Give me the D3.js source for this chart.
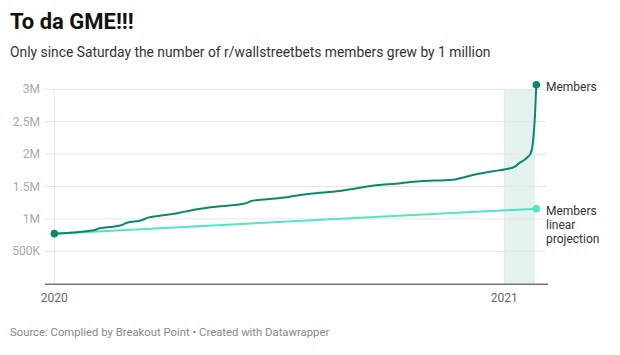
<!DOCTYPE html>
<html><head><meta charset="utf-8">
<script src="https://cdn.jsdelivr.net/npm/d3@7/dist/d3.min.js"></script>
<style>body{margin:0;background:#fff;font-family:Roboto,sans-serif}svg text{font-family:Roboto,sans-serif}</style>
</head><body>
<svg id="c" width="620" height="355"></svg>
<script>
const memberDates = ["2020-01-01","2020-02-02","2020-02-07","2020-02-18","2020-02-25","2020-02-29","2020-03-12","2020-03-17","2020-03-27","2020-04-12","2020-04-20","2020-05-07","2020-06-05","2020-06-09","2020-06-24","2020-07-08","2020-07-19","2020-07-27","2020-08-20","2020-09-03","2020-09-19","2020-10-05","2020-10-24","2020-11-20","2020-11-26","2020-12-09","2020-12-23","2021-01-02","2021-01-10","2021-01-13","2021-01-18","2021-01-20","2021-01-22","2021-01-24","2021-01-25","2021-01-26","2021-01-27"];
const memberValues = [772000,824000,855000,880000,906000,941000,978000,1019000,1049000,1096000,1127000,1179000,1241000,1276000,1307000,1333000,1369000,1389000,1430000,1472000,1519000,1543000,1580000,1605000,1627000,1688000,1735000,1765000,1810000,1860000,1920000,1955000,1995000,2140000,2340000,2620000,3070000];
const projectionDates = ["2020-01-01","2021-01-27"];
const projectionValues = [772000,1157000];
const yTicks = [500000,1000000,1500000,2000000,2500000,3000000];
const yTickLabels = ["500K","1M","1.5M","2M","2.5M","3M"];
const xTicks = ["2020-01-01","2021-01-01"];
const xTickLabels = ["2020","2021"];
const highlight = ["2021-01-01","2021-01-26"];

const parse = d3.utcParse("%Y-%m-%d");
const svg = d3.select("#c");
const x = d3.scaleUtc().domain([parse("2020-01-01"), parse("2021-01-27")]).range([54.3, 536.3]);
const y = d3.scaleLinear().domain([0, 3000000]).range([283.7, 89.3]);

svg.append("text").attr("x",10).attr("y",29).attr("font-size",22).attr("font-weight",700).attr("fill","#111").text("To da GME!!!");
svg.append("text").attr("x",10).attr("y",57).attr("font-size",13.85).attr("fill","#333").text("Only since Saturday the number of r/wallstreetbets members grew by 1 million");
svg.append("text").attr("x",10).attr("y",336).attr("font-size",11.3).attr("fill","#888").text("Source: Complied by Breakout Point \u2022 Created with Datawrapper");

// highlight band
svg.append("rect").attr("x",x(parse(highlight[0]))).attr("y",y(3000000)).attr("width",x(parse(highlight[1]))-x(parse(highlight[0]))).attr("height",y(0)-y(3000000)).attr("fill","#e3f2ee");

// y grid + labels
const yg = svg.append("g");
yTicks.forEach((t,i)=>{
  yg.append("line").attr("x1",45).attr("x2",546).attr("y1",y(t)).attr("y2",y(t)).attr("stroke","#e5e5e5").attr("stroke-width",1);
  yg.append("text").attr("x",40).attr("y",y(t)+4).attr("text-anchor","end").attr("font-size",12).attr("fill","#aaa").text(yTickLabels[i]);
});
// x grid + labels
xTicks.forEach((t,i)=>{
  const xx = x(parse(t));
  svg.append("line").attr("x1",xx).attr("x2",xx).attr("y1",y(3000000)).attr("y2",y(0)).attr("stroke","#e5e5e5");
  svg.append("text").attr("x",xx).attr("y",302).attr("text-anchor","middle").attr("font-size",12).attr("fill","#666").text(xTickLabels[i]);
});
svg.append("line").attr("x1",45).attr("x2",548).attr("y1",y(0)+0.5).attr("y2",y(0)+0.5).attr("stroke","#333").attr("stroke-width",1);

const line = d3.line().x(d=>x(d[0])).y(d=>y(d[1]));
const proj = projectionDates.map((d,i)=>[parse(d),projectionValues[i]]);
const mem = memberDates.map((d,i)=>[parse(d),memberValues[i]]);
svg.append("path").datum(proj).attr("d",line).attr("fill","none").attr("stroke","#52e5c1").attr("stroke-width",2);
svg.append("path").datum(mem).attr("d",line.curve(d3.curveMonotoneX)).attr("fill","none").attr("stroke","#0a8a6c").attr("stroke-width",2);

svg.append("circle").attr("cx",x(mem[0][0])).attr("cy",y(mem[0][1])).attr("r",3.8).attr("fill","#0a8a6c");
svg.append("circle").attr("cx",x(proj[1][0])).attr("cy",y(proj[1][1])).attr("r",3.8).attr("fill","#52e5c1");
svg.append("circle").attr("cx",x(mem[mem.length-1][0])).attr("cy",y(mem[mem.length-1][1])).attr("r",3.8).attr("fill","#0a8a6c");

svg.append("text").attr("x",546).attr("y",y(mem[mem.length-1][1])+6).attr("font-size",12).attr("fill","#333").text("Members");
const pl = svg.append("text").attr("x",546).attr("y",y(proj[1][1])+6).attr("font-size",12).attr("fill","#333");
["Members","linear","projection"].forEach((s,i)=>pl.append("tspan").attr("x",546).attr("dy",i?14:0).text(s));
</script>
</body></html>
